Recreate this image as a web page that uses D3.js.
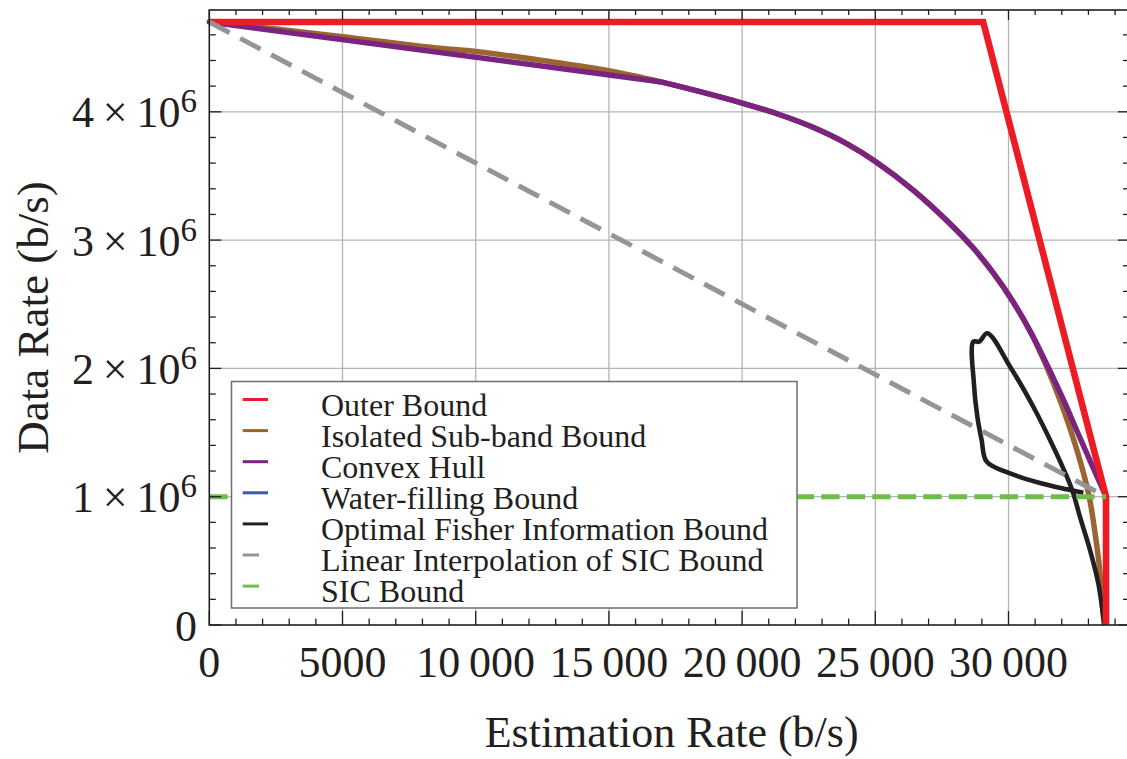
<!DOCTYPE html>
<html><head><meta charset="utf-8">
<script src="https://cdn.jsdelivr.net/npm/d3@7"></script>
<style>
body{margin:0;background:#fff}
svg{display:block}
text{font-family:"Liberation Serif","Times New Roman",serif;fill:#231F20}
</style>
</head><body>
<svg id="c" width="1127" height="759"></svg>
<script>
// ---------- data ----------
const xTickValues = [0, 5000, 10000, 15000, 20000, 25000, 30000];
const xTickLabels = ["0", "5000", "10 000", "15 000", "20 000", "25 000", "30 000"];
const yTickValues = [0, 1e6, 2e6, 3e6, 4e6];
const yTickMantissa = ["0", "1", "2", "3", "4"];
const yTickExponent = ["", "6", "6", "6", "6"];

const outerBound = [[0, 4.70e6], [29050, 4.70e6], [33660, 1.0e6], [33660, 0]];
const isolatedSubband = [[0, 4.70e6], [2500, 4.645e6], [5000, 4.586e6], [8660, 4.495e6], [10000, 4.47e6],
  [12500, 4.40e6], [15000, 4.32e6], [16910, 4.235e6], [18420, 4.157e6], [20000, 4.068e6], [21420, 3.977e6],
  [22660, 3.879e6], [23940, 3.75e6], [25030, 3.609e6], [26420, 3.39e6], [27690, 3.151e6], [28670, 2.94e6],
  [29420, 2.746e6], [30170, 2.52e6], [30880, 2.263e6], [31430, 2.013e6], [31930, 1.754e6], [32370, 1.494e6],
  [32750, 1.234e6], [33030, 1.0e6], [33250, 0.715e6], [33410, 0.454e6], [33510, 0.195e6], [33590, 0]];
const convexHullStraight = [[0, 4.70e6], [16910, 4.235e6]];
const convexHullCurve = [[16910, 4.235e6], [18420, 4.157e6], [20000, 4.068e6], [21420, 3.977e6],
  [22660, 3.879e6], [23940, 3.75e6], [25030, 3.609e6], [26420, 3.39e6], [27690, 3.151e6], [28670, 2.94e6],
  [29420, 2.746e6], [30170, 2.52e6], [30880, 2.263e6], [31480, 2.013e6], [32080, 1.746e6], [32570, 1.512e6],
  [33100, 1.262e6], [33660, 1.0e6]];
const fisherBound = [[32810, 1.031e6], [32190, 1.058e6], [31180, 1.107e6], [30060, 1.182e6], [29180, 1.273e6],
  [28990, 1.442e6], [28830, 1.624e6], [28700, 1.884e6], [28680, 2.208e6], [28900, 2.208e6], [29200, 2.274e6],
  [30060, 2.013e6], [30930, 1.701e6], [31680, 1.39e6], [32190, 1.156e6], [32430, 1.027e6], [32680, 0.844e6],
  [33060, 0.584e6], [33370, 0.325e6], [33580, 0.039e6], [33620, 0]];
const linearSIC = [[0, 4.70e6], [33660, 1.0e6]];
const sicBound = [[0, 1.0e6], [33660, 1.0e6]];

const legendLabels = ["Outer Bound", "Isolated Sub-band Bound", "Convex Hull", "Water-filling Bound",
  "Optimal Fisher Information Bound", "Linear Interpolation of SIC Bound", "SIC Bound"];
const legendColors = ["#ED1C24", "#9B6532", "#7B2380", "#3E5BA9", "#231F20", "#939598", "#6CBE45"];
const legendDashed = [false, false, false, false, false, true, true];

// ---------- drawing ----------
const svg = d3.select("#c");
const L = 209.3, R = 1128, T = 10, B = 625;
const x = d3.scaleLinear().domain([0, 34485]).range([L, R]);
const y = d3.scaleLinear().domain([0, 4.7935e6]).range([B, T]);

// grid
const g = svg.append("g");
g.selectAll("line.vx").data(xTickValues.filter(d => d > 0)).join("line")
  .attr("x1", d => x(d)).attr("x2", d => x(d)).attr("y1", T).attr("y2", B)
  .attr("stroke", "#b4b4b4").attr("stroke-width", 1.3);
g.selectAll("line.hy").data(yTickValues.filter(d => d > 0)).join("line")
  .attr("y1", d => y(d)).attr("y2", d => y(d)).attr("x1", L).attr("x2", R)
  .attr("stroke", "#b4b4b4").attr("stroke-width", 1.3);

const line = d3.line().x(d => x(d[0])).y(d => y(d[1]));
const smooth = d3.line().x(d => x(d[0])).y(d => y(d[1])).curve(d3.curveCatmullRom.alpha(0.5));

function path(data, gen, color, w, dash) {
  const p = svg.append("path").attr("d", gen(data)).attr("fill", "none")
    .attr("stroke", color).attr("stroke-width", w).attr("stroke-linejoin", "round");
  if (dash) p.attr("stroke-dasharray", dash);
  return p;
}
path(isolatedSubband, smooth, legendColors[1], 5.5);
path(convexHullStraight, line, legendColors[2], 5.5).attr("stroke-linecap", "round");
path(convexHullCurve, smooth, legendColors[2], 5.5);
path(fisherBound, smooth, legendColors[4], 4.6);
path(outerBound, line, legendColors[0], 6.6).attr("stroke-linejoin", "miter");
path(linearSIC, line, legendColors[5], 5, "23,12");
path(sicBound, line, legendColors[6], 5, "18.3,7.2");

// legend
const lg = svg.append("g");
lg.append("rect").attr("x", 231.5).attr("y", 381.5).attr("width", 565.5).attr("height", 226.5)
  .attr("fill", "#fff").attr("stroke", "#6d6e71").attr("stroke-width", 1.5);
legendLabels.forEach((lab, i) => {
  const by = 415.5 + i * 31.1;
  lg.append("line").attr("x1", 242.7).attr("x2", legendDashed[i] ? 259 : 268)
    .attr("y1", by - 16).attr("y2", by - 16)
    .attr("stroke", legendColors[i]).attr("stroke-width", 3);
  lg.append("text").attr("x", 321).attr("y", by).attr("font-size", 32).text(lab);
});

// frame
svg.append("rect").attr("x", L).attr("y", T).attr("width", R - L).attr("height", B - T)
  .attr("fill", "none").attr("stroke", "#231F20").attr("stroke-width", 1.6);

// ticks
const xMinor = d3.range(0, 34485, 1000);
const yMinor = d3.range(0, 4.7935e6, 2e5);
const tk = svg.append("g").attr("stroke", "#231F20").attr("stroke-width", 1.3);
xMinor.forEach(v => {
  const major = v % 5000 === 0;
  tk.append("line").attr("x1", x(v)).attr("x2", x(v)).attr("y1", B).attr("y2", B - (major ? 14 : 6.5));
  tk.append("line").attr("x1", x(v)).attr("x2", x(v)).attr("y1", T).attr("y2", T + (major ? 10 : 5));
});
yMinor.forEach(v => {
  const major = Math.round(v) % 1000000 === 0;
  tk.append("line").attr("y1", y(v)).attr("y2", y(v)).attr("x1", L).attr("x2", L + (major ? 12 : 6.5));
  tk.append("line").attr("y1", y(v)).attr("y2", y(v)).attr("x1", R).attr("x2", R - (major ? 10 : 5));
});

// x tick labels
svg.selectAll("text.xt").data(xTickValues).join("text")
  .attr("x", d => x(d)).attr("y", 677).attr("text-anchor", "middle").attr("font-size", 44)
  .text((d, i) => xTickLabels[i].replace(" ", "\u2009"));

// y tick labels
yTickValues.forEach((v, i) => {
  const t = svg.append("text").attr("x", 197).attr("y", y(v) + 15.5).attr("text-anchor", "end").attr("font-size", 44);
  if (yTickExponent[i]) {
    t.append("tspan").text(yTickMantissa[i] + "\u2009\u00d7\u2009" + "10");
    t.append("tspan").attr("font-size", 33).attr("dy", -15).text(yTickExponent[i]);
  } else {
    t.text(yTickMantissa[i]);
  }
});

// axis titles
svg.append("text").attr("x", (L + R) / 2 + 3).attr("y", 747).attr("text-anchor", "middle")
  .attr("font-size", 44).text("Estimation Rate (b/s)");
svg.append("text").attr("transform", `translate(48,${(T + B) / 2}) rotate(-90)`)
  .attr("text-anchor", "middle").attr("font-size", 45).text("Data Rate (b/s)");
</script>
</body></html>
